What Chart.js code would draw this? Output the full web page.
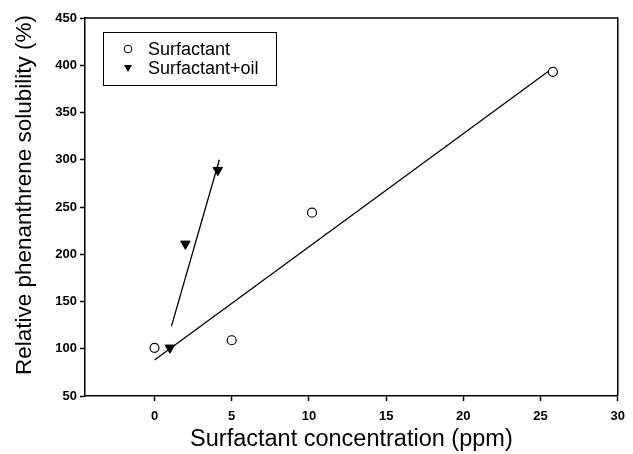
<!DOCTYPE html>
<html>
<head>
<meta charset="utf-8">
<script src="https://cdn.jsdelivr.net/npm/chart.js@4.4.1/dist/chart.umd.min.js"></script>
<style>
  body { margin: 0; background: #fff; }
</style>
</head>
<body>
<canvas id="solChart" width="633" height="454"></canvas>
<script>
// values
const surfConc = [0, 5, 10.2, 25.8];
const surfSol = [101, 109, 244, 393];
const oilConc = [1, 2, 4.1];
const oilSol = [101, 211, 289];
// end points of the two fitted lines
const surfFitConc = [0, 25.8];
const surfFitSol = [88, 397];
const oilFitConc = [1.1, 4.2];
const oilFitSol = [124, 300];
const xTickVals = [0, 5, 10, 15, 20, 25, 30];
const seriesNames = ["Surfactant", "Surfactant+oil"];
const xTitle = "Surfactant concentration (ppm)";
const yTitle = "Relative phenanthrene solubility (%)";

function pts(xs, ys) {
  return xs.map((x, i) => ({x: x, y: ys[i]}));
}

// frame on top/right, the boxed legend and the y title
const extras = {
  id: "extras",
  afterDraw(chart) {
    const ctx = chart.ctx, a = chart.chartArea;
    ctx.save();
    ctx.strokeStyle = "#000";
    ctx.lineWidth = 1.5;
    ctx.beginPath();
    ctx.moveTo(a.left, a.top);
    ctx.lineTo(a.right, a.top);
    ctx.lineTo(a.right, a.bottom);
    ctx.stroke();

    // legend
    const bx = a.left + 18, by = a.top + 14;
    ctx.lineWidth = 1;
    ctx.strokeRect(bx + 0.5, by + 0.5, 173, 53);
    ctx.font = "18px Arial, 'Liberation Sans', sans-serif";
    ctx.fillStyle = "#000";
    ctx.textBaseline = "middle";
    ctx.fillText(seriesNames[0], bx + 45, by + 18);
    ctx.fillText(seriesNames[1], bx + 45, by + 37);
    ctx.beginPath();
    ctx.arc(bx + 25, by + 17, 3.8, 0, Math.PI * 2);
    ctx.stroke();
    ctx.beginPath();
    ctx.moveTo(bx + 21, by + 33);
    ctx.lineTo(bx + 29, by + 33);
    ctx.lineTo(bx + 25, by + 40);
    ctx.closePath();
    ctx.fill();

    // y axis title
    ctx.font = "22.5px Arial, 'Liberation Sans', sans-serif";
    ctx.textAlign = "center";
    ctx.textBaseline = "middle";
    ctx.translate(25, 195);
    ctx.rotate(-Math.PI / 2);
    ctx.fillText(yTitle, 0, 0);
    ctx.restore();
  }
};

new Chart("solChart", {
  type: "scatter",
  data: {
    datasets: [
      {
        label: seriesNames[0],
        data: pts(surfConc, surfSol),
        pointStyle: "circle",
        pointRadius: 4.5,
        backgroundColor: "#fff",
        borderColor: "#000",
        borderWidth: 1.2
      },
      {
        label: seriesNames[1],
        data: pts(oilConc, oilSol),
        pointStyle: "triangle",
        rotation: 180,
        pointRadius: 5.5,
        backgroundColor: "#000",
        borderColor: "#000",
        borderWidth: 1
      },
      {
        label: "fit1",
        type: "line",
        data: pts(surfFitConc, surfFitSol),
        borderColor: "#000",
        borderWidth: 1.3,
        pointRadius: 0,
        fill: false
      },
      {
        label: "fit2",
        type: "line",
        data: pts(oilFitConc, oilFitSol),
        borderColor: "#000",
        borderWidth: 1.3,
        pointRadius: 0,
        fill: false
      }
    ]
  },
  options: {
    responsive: false,
    animation: false,
    layout: { padding: { left: 0, top: 18, right: 9, bottom: 0 } },
    plugins: {
      legend: { display: false },
      tooltip: { enabled: false }
    },
    scales: {
      x: {
        type: "linear",
        min: -4.5,
        max: 30,
        afterBuildTicks: (s) => { s.ticks = xTickVals.map(v => ({value: v})); },
        afterFit: (s) => { s.height = 58; },
        grid: { drawOnChartArea: false, tickLength: 5, tickColor: "#000", tickWidth: 1.5 },
        border: { display: true, color: "#000", width: 1.5 },
        ticks: {
          color: "#000",
          padding: 8,
          maxRotation: 0,
          font: { family: "Arial, 'Liberation Sans', sans-serif", size: 13, weight: "bold" }
        },
        title: {
          display: true,
          text: xTitle,
          color: "#000",
          padding: { top: 0, bottom: 0 },
          font: { family: "Arial, 'Liberation Sans', sans-serif", size: 23.5 }
        }
      },
      y: {
        min: 50,
        max: 450,
        afterFit: (s) => { s.width = 85; },
        grid: { drawOnChartArea: false, tickLength: 5, tickColor: "#000", tickWidth: 1.5 },
        border: { display: true, color: "#000", width: 1.5 },
        ticks: {
          stepSize: 50,
          color: "#000",
          padding: 3,
          font: { family: "Arial, 'Liberation Sans', sans-serif", size: 13, weight: "bold" }
        }
      }
    }
  },
  plugins: [extras]
});
</script>
</body>
</html>
